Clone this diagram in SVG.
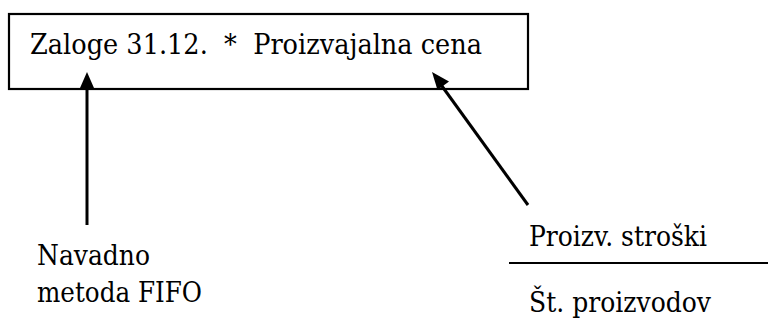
<svg xmlns="http://www.w3.org/2000/svg" width="768" height="324" viewBox="0 0 768 324">
<style>
.t{font-family:"DejaVu Serif",serif;font-size:28px;fill:#000}
.ln{stroke:#000;stroke-width:2.2;fill:none}
.ar{stroke:#000;stroke-width:3;fill:none}
.hd{fill:#000}
</style>
<rect width="768" height="324" fill="#fff"/>
<g id="box">
<rect x="9" y="14" width="519" height="75" class="ln"/>
<text class="t" x="30" y="54" textLength="452" lengthAdjust="spacingAndGlyphs" xml:space="preserve">Zaloge 31.12.  *  Proizvajalna cena</text>
</g>
<g id="fifo">
<text class="t" x="37" y="265" textLength="113" lengthAdjust="spacingAndGlyphs">Navadno</text>
<text class="t" x="37" y="302" textLength="165" lengthAdjust="spacingAndGlyphs">metoda FIFO</text>
</g>
<g id="fraction">
<text class="t" x="529" y="246" textLength="178" lengthAdjust="spacingAndGlyphs">Proizv. stroški</text>
<line x1="509" y1="263" x2="768" y2="263" class="ln"/>
<text class="t" x="529" y="312" textLength="182" lengthAdjust="spacingAndGlyphs">Št. proizvodov</text>
</g>
<g id="connectors">
<line x1="87" y1="225" x2="87" y2="84" class="ar"/>
<polygon class="hd" points="87,72 80,88 94,88"/>
<line x1="528" y1="205" x2="439" y2="82" class="ar"/>
<polygon class="hd" points="432,72 437.5,90 449,81.5"/>
</g>
</svg>
